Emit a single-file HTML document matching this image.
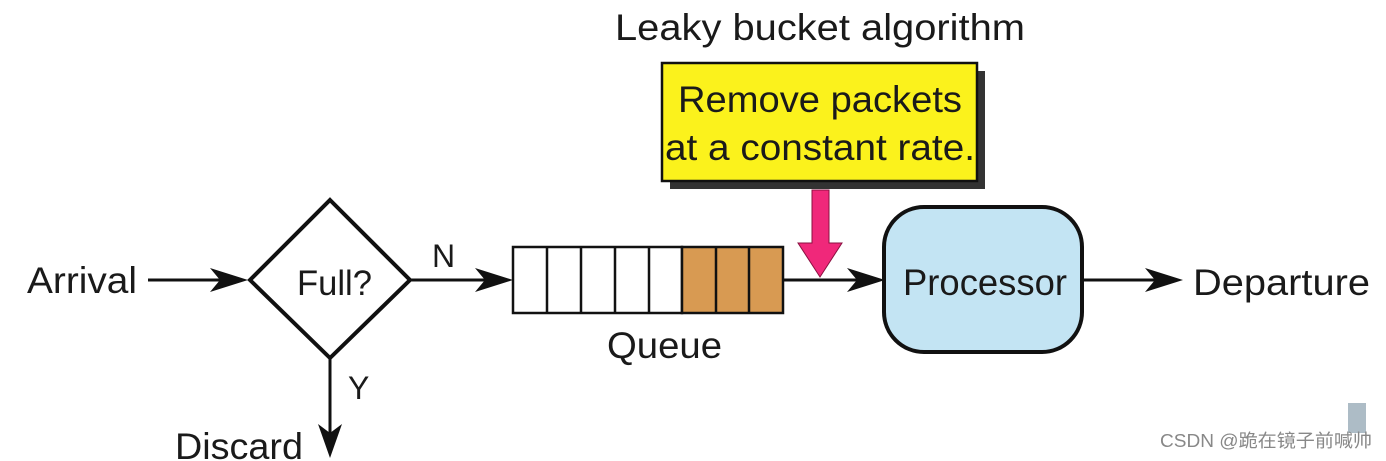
<!DOCTYPE html>
<html><head><meta charset="utf-8"><style>
html,body{margin:0;padding:0;background:#fff;width:1386px;height:461px;overflow:hidden}
svg text{font-family:"Liberation Sans","Noto Sans CJK SC",sans-serif;fill:#1a1a1a}
</style></head><body>
<svg width="1386" height="461" viewBox="0 0 1386 461" xmlns="http://www.w3.org/2000/svg">
<!-- title -->
<text x="615" y="40" font-size="37" textLength="410" lengthAdjust="spacingAndGlyphs">Leaky bucket algorithm</text>
<!-- yellow box -->
<rect x="670" y="71" width="315" height="118" fill="#333"/>
<rect x="662" y="63" width="315" height="118" fill="#fbf21c" stroke="#111" stroke-width="2.5"/>
<text x="678" y="112" font-size="37" textLength="284" lengthAdjust="spacingAndGlyphs">Remove packets</text>
<text x="665" y="160" font-size="37" textLength="310" lengthAdjust="spacingAndGlyphs">at a constant rate.</text>
<!-- pink arrow -->
<polygon points="812,190 829,190 829,243 842,243 820,277 798,243 812,243" fill="#f0287a" stroke="#8a1040" stroke-width="1"/>
<!-- Arrival -->
<text x="27" y="293" font-size="37" textLength="110" lengthAdjust="spacingAndGlyphs">Arrival</text>
<line x1="148" y1="280" x2="232" y2="280" stroke="#111" stroke-width="3"/>
<polygon points="248,280 210,268 220,280 210,292" fill="#111"/>
<!-- diamond -->
<polygon points="330,200 410,280 330,358 250,280" fill="#fff" stroke="#111" stroke-width="4"/>
<text x="297" y="295" font-size="35" textLength="75" lengthAdjust="spacingAndGlyphs">Full?</text>
<!-- N -->
<text x="432" y="267" font-size="32">N</text>
<line x1="410" y1="280" x2="498" y2="280" stroke="#111" stroke-width="3"/>
<polygon points="513,280 475,268 485,280 475,292" fill="#111"/>
<!-- queue -->
<g stroke="#111" stroke-width="2.5">
<rect x="513" y="247" width="169" height="66" fill="#fff"/>
<rect x="682" y="247" width="101" height="66" fill="#d89a52"/>
<line x1="547" y1="247" x2="547" y2="313"/>
<line x1="581" y1="247" x2="581" y2="313"/>
<line x1="615" y1="247" x2="615" y2="313"/>
<line x1="649" y1="247" x2="649" y2="313"/>
<line x1="716" y1="247" x2="716" y2="313"/>
<line x1="749" y1="247" x2="749" y2="313"/>
</g>
<text x="607" y="358" font-size="37" textLength="115" lengthAdjust="spacingAndGlyphs">Queue</text>
<!-- queue -> processor -->
<line x1="783" y1="280" x2="870" y2="280" stroke="#111" stroke-width="3"/>
<polygon points="885,280 847,268 857,280 847,292" fill="#111"/>
<!-- processor -->
<rect x="884" y="207" width="198" height="145" rx="40" ry="40" fill="#c3e4f3" stroke="#111" stroke-width="4"/>
<text x="903" y="295" font-size="37" textLength="164" lengthAdjust="spacingAndGlyphs">Processor</text>
<!-- departure -->
<line x1="1082" y1="280" x2="1168" y2="280" stroke="#111" stroke-width="3"/>
<polygon points="1183,280 1145,268 1155,280 1145,292" fill="#111"/>
<text x="1193" y="295" font-size="37" textLength="177" lengthAdjust="spacingAndGlyphs">Departure</text>
<!-- Y / discard -->
<line x1="330" y1="358" x2="330" y2="440" stroke="#111" stroke-width="3"/>
<polygon points="330,458 318,424 330,433 342,424" fill="#111"/>
<text x="348" y="399" font-size="32">Y</text>
<text x="175" y="459" font-size="37" textLength="128" lengthAdjust="spacingAndGlyphs">Discard</text>
<!-- watermark -->
<rect x="1348" y="403" width="18" height="30" fill="#8aa0ae" opacity="0.7"/>
<text x="1160" y="447" font-size="18" style="fill:#888" textLength="212" lengthAdjust="spacingAndGlyphs">CSDN @跪在镜子前喊帅</text>
</svg>
</body></html>
